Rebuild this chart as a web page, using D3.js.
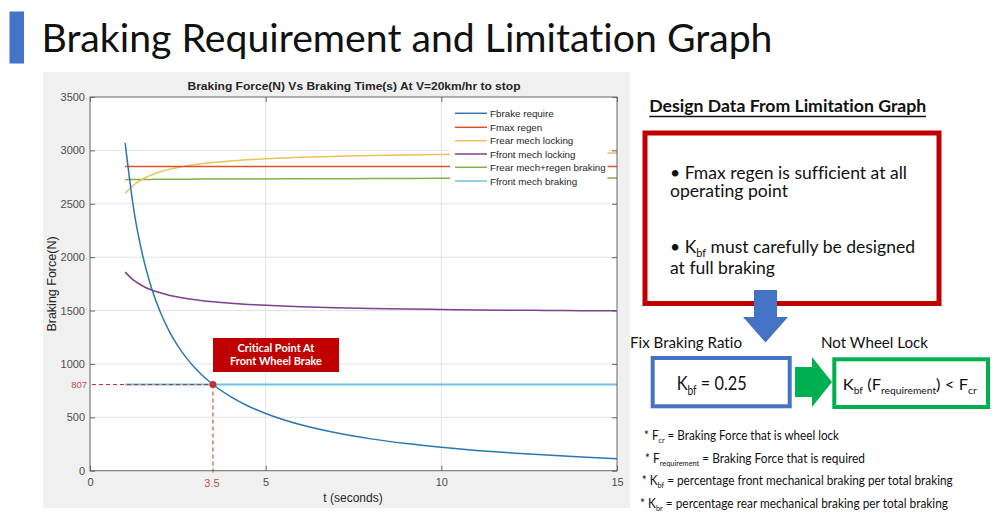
<!DOCTYPE html>
<html><head><meta charset="utf-8">
<script src="https://cdn.jsdelivr.net/npm/d3@7"></script>
<style>body{margin:0;background:#fff;} svg{display:block} text{font-variant-ligatures:none;}</style>
</head><body>
<svg id="c" width="997" height="520"></svg>
<script>
// ---------------- DATA ----------------
const timeS = [1,1.25,1.5,1.75,2,2.25,2.5,2.75,3,3.5,4,4.5,5,6,7,8,9,10,11,12,13,14,15];
const fbrakeRequire   = [3070,2436,2014,1712,1486,1310,1169,1054,958,807,694,606,536,430,355,298,254,219,190,166,146,128,113];
const fmaxRegen       = [2850,2850,2850,2850,2850,2850,2850,2850,2850,2850,2850,2850,2850,2850,2850,2850,2850,2850,2850,2850,2850,2850,2850];
const frearMechLock   = [2597,2678,2732,2771,2800,2822,2840,2855,2867,2886,2901,2912,2921,2935,2944,2951,2957,2962,2965,2968,2971,2973,2975];
const ffrontMechLock  = [1860,1782,1730,1693,1666,1644,1627,1612,1601,1582,1568,1557,1549,1536,1527,1520,1514,1510,1506,1503,1501,1499,1497];
const frearMechRegen  = [2726,2727,2728,2728,2729,2729,2730,2730,2731,2731,2732,2732,2733,2734,2735,2736,2737,2738,2739,2740,2740,2741,2742];
const ffrontMechBrake = [807,807,807,807,807,807,807,807,807,807,807,807,807,807,807,807,807,807,807,807,807,807,807];
const seriesNames  = ["Fbrake require","Fmax regen","Frear mech locking","Ffront mech locking","Frear mech+regen braking","Ffront mech braking"];
const seriesValues = [fbrakeRequire,fmaxRegen,frearMechLock,ffrontMechLock,frearMechRegen,ffrontMechBrake];
const seriesColors = ["#2b76b0","#d9532a","#ebc25a","#7e3f8e","#86ae4a","#6fc2e6"];
const xTicks = [0,5,10,15];
const yTicks = [0,500,1000,1500,2000,2500,3000,3500];
const criticalT = 3.5, criticalF = 807;

// ---------------- SETUP ----------------
const svg = d3.select("#c");
const SLIDE = "Lato, 'Open Sans', sans-serif";
const MAT = "'Liberation Sans', Arial, sans-serif";

// slide title
svg.append("rect").attr("x",9.5).attr("y",11.5).attr("width",14.5).attr("height",52).attr("fill","#4472C4");
svg.append("text").attr("x",41.5).attr("y",51.7).attr("font-family",SLIDE).attr("font-size",38)
  .attr("fill","#111").attr("textLength",731).attr("lengthAdjust","spacingAndGlyphs")
  .text("Braking Requirement and Limitation Graph");

// figure background
svg.append("rect").attr("x",43).attr("y",72).attr("width",587).attr("height",436).attr("fill","#f0f0f0");

const x = d3.scaleLinear().domain([0,15]).range([90,617]);
const y = d3.scaleLinear().domain([0,3500]).range([470.7,97]);

const g = svg.append("g");
g.append("rect").attr("x",x(0)).attr("y",y(3500)).attr("width",x(15)-x(0)).attr("height",y(0)-y(3500)).attr("fill","#fff");

// grid
g.selectAll(".gx").data(xTicks.slice(1,-1)).join("line")
  .attr("x1",d=>x(d)).attr("x2",d=>x(d)).attr("y1",y(0)).attr("y2",y(3500)).attr("stroke","#e3e3e3").attr("stroke-width",1);
g.selectAll(".gy").data(yTicks.slice(1,-1)).join("line")
  .attr("y1",d=>y(d)).attr("y2",d=>y(d)).attr("x1",x(0)).attr("x2",x(15)).attr("stroke","#e3e3e3").attr("stroke-width",1);

// series
const line = d3.line().x((d,i)=>x(timeS[i])).y(d=>y(d)).curve(d3.curveMonotoneX);
const drawOrder = [5,4,3,2,1,0];
drawOrder.forEach(k=>{
  g.append("path").attr("d",line(seriesValues[k])).attr("fill","none")
   .attr("stroke",seriesColors[k]).attr("stroke-width", k===5?2:1.5);
});

// critical point annotation
g.append("line").attr("x1",x(0)+2).attr("x2",x(criticalT)).attr("y1",y(criticalF)).attr("y2",y(criticalF))
  .attr("stroke","#b8302e").attr("stroke-width",1).attr("stroke-dasharray","4,3");
g.append("line").attr("x1",x(criticalT)).attr("x2",x(criticalT)).attr("y1",y(criticalF)).attr("y2",y(0)+5)
  .attr("stroke","#b8302e").attr("stroke-width",1).attr("stroke-dasharray","4,3");
g.append("circle").attr("cx",x(criticalT)).attr("cy",y(criticalF)).attr("r",3.5).attr("fill","#c0302c");
g.append("text").attr("x",x(0)-3).attr("y",y(criticalF)+3.5).attr("text-anchor","end")
  .attr("font-family",MAT).attr("font-size",9.5).attr("fill","#c0504d").text(String(criticalF));
g.append("text").attr("x",x(criticalT)-1).attr("y",487).attr("text-anchor","middle")
  .attr("font-family",MAT).attr("font-size",11).attr("fill","#c0504d").text(String(criticalT));

// axes box + ticks
const axisColor = "#666";
g.append("rect").attr("x",x(0)).attr("y",y(3500)).attr("width",x(15)-x(0)).attr("height",y(0)-y(3500))
  .attr("fill","none").attr("stroke",axisColor).attr("stroke-width",1);
const xAx = d3.axisBottom(x).tickValues(xTicks).tickSize(-5).tickPadding(8).tickFormat(d3.format("d"));
const yAx = d3.axisLeft(y).tickValues(yTicks).tickSize(-5).tickPadding(5).tickFormat(d3.format("d"));
const gx = g.append("g").attr("transform",`translate(0,${y(0)})`).call(xAx);
const gy = g.append("g").attr("transform",`translate(${x(0)},0)`).call(yAx);
g.append("g").attr("transform",`translate(0,${y(3500)})`).call(d3.axisTop(x).tickValues(xTicks).tickSize(-5).tickFormat(""));
g.append("g").attr("transform",`translate(${x(15)},0)`).call(d3.axisRight(y).tickValues(yTicks).tickSize(-5).tickFormat(""));
g.selectAll(".domain").remove();
g.selectAll(".tick line").attr("stroke",axisColor);
[gx,gy].forEach(a=>a.selectAll("text").attr("font-family",MAT).attr("font-size",11).attr("fill","#4d4d4d"));

// legend (covers lines)
g.append("rect").attr("x",450).attr("y",99).attr("width",157.5).attr("height",93).attr("fill","#fff");
const legY = [113.3,127.3,140.7,154,167.3,181];
seriesNames.forEach((n,i)=>{
  g.append("line").attr("x1",455).attr("x2",487).attr("y1",legY[i]).attr("y2",legY[i]).attr("stroke",seriesColors[i]).attr("stroke-width",1.5);
  g.append("text").attr("x",490).attr("y",legY[i]+3.5).attr("font-family",MAT).attr("font-size",9.8).attr("fill","#262626").text(n);
});

// titles
svg.append("text").attr("x",354).attr("y",90).attr("text-anchor","middle").attr("font-family",MAT)
  .attr("font-weight","bold").attr("font-size",11).attr("fill","#262626").attr("textLength",333).attr("lengthAdjust","spacingAndGlyphs")
  .text("Braking Force(N) Vs Braking Time(s) At V=20km/hr to stop");
svg.append("text").attr("transform","translate(56,284) rotate(-90)").attr("text-anchor","middle").attr("font-family",MAT)
  .attr("font-size",12.5).attr("fill","#262626").text("Braking Force(N)");
svg.append("text").attr("x",353).attr("y",502).attr("text-anchor","middle").attr("font-family",MAT)
  .attr("font-size",12).attr("fill","#262626").text("t (seconds)");

// critical label
g.append("rect").attr("x",213).attr("y",338).attr("width",126).attr("height",34).attr("fill","#C00000");
g.append("text").attr("x",276).attr("y",352).attr("text-anchor","middle").attr("font-family",SLIDE).attr("font-weight","bold")
  .attr("font-size",11).attr("fill","#fff").text("Critical Point At");
g.append("text").attr("x",276).attr("y",364.5).attr("text-anchor","middle").attr("font-family",SLIDE).attr("font-weight","bold")
  .attr("font-size",11).attr("fill","#fff").text("Front Wheel Brake");

// ---------------- RIGHT PANEL ----------------
function rich(xp,yp,size,parts,width,weight){
  const t = svg.append("text").attr("x",xp).attr("y",yp).attr("font-family",SLIDE).attr("font-size",size).attr("fill","#111");
  if(weight) t.attr("font-weight",weight);
  let down = false;
  parts.forEach(p=>{
    const ts = t.append("tspan").text(p.t);
    if(p.sub){ ts.attr("font-size","62%").attr("dy","0.38em"); down = true; }
    else if(down){ ts.attr("dy", "-0.2356em"); down = false; }
  });
  if(width) t.attr("textLength",width).attr("lengthAdjust","spacingAndGlyphs");
  return t;
}
rich(649.3,111.7,17,[{t:"Design Data From Limitation Graph"}],277,"bold");
svg.append("line").attr("x1",649.3).attr("x2",926).attr("y1",116.5).attr("y2",116.5).attr("stroke","#111").attr("stroke-width",1.3);

svg.append("rect").attr("x",645).attr("y",133).attr("width",294).attr("height",170.5).attr("fill","#fff")
  .attr("stroke","#C00000").attr("stroke-width",5);
rich(670,178.5,18,[{t:"• Fmax regen is sufficient at all"}],237);
rich(670,197,18,[{t:"operating point"}],118);
rich(670,253,18,[{t:"• K"},{t:"bf",sub:true},{t:" must carefully be designed"}],245);
rich(670,274,18,[{t:"at full braking"}],105);

// blue down arrow
svg.append("path").attr("d","M754,290 L777,290 L777,317 L788,317 L765.5,342.5 L743,317 L754,317 Z").attr("fill","#4472C4");

rich(630,348,16,[{t:"Fix Braking Ratio"}],112);
rich(821,347.5,16,[{t:"Not Wheel Lock"}],107);

svg.append("rect").attr("x",652.7).attr("y",358).attr("width",137).attr("height",48.3).attr("fill","#fff")
  .attr("stroke","#4472C4").attr("stroke-width",4);
rich(676.7,390,20,[{t:"K"},{t:"bf",sub:true},{t:" = 0.25"}],70);

// green right arrow
svg.append("path").attr("d","M795,367 L812,367 L812,357 L832,382 L812,407 L812,397 L795,397 Z").attr("fill","#00B050");
svg.append("rect").attr("x",834.3).attr("y",359.3).attr("width",153.7).attr("height",47.7).attr("fill","#fff")
  .attr("stroke","#00B050").attr("stroke-width",4);
rich(842.7,390,16,[{t:"K"},{t:"bf",sub:true},{t:"  (F"},{t:"requirement",sub:true},{t:") < F"},{t:"cr",sub:true}],134);

// footnotes
rich(644,440,13,[{t:"* F"},{t:"cr",sub:true},{t:" = Braking Force that is wheel lock"}],195);
rich(645,462.7,13,[{t:"* F"},{t:"requirement",sub:true},{t:" = Braking Force that is required"}],220);
rich(641.7,485,13,[{t:"* K"},{t:"bf",sub:true},{t:" = percentage front mechanical braking per total braking"}],311);
rich(640,507.7,13,[{t:"* K"},{t:"br",sub:true},{t:" = percentage rear mechanical braking per total braking"}],308);
</script>
</body></html>
